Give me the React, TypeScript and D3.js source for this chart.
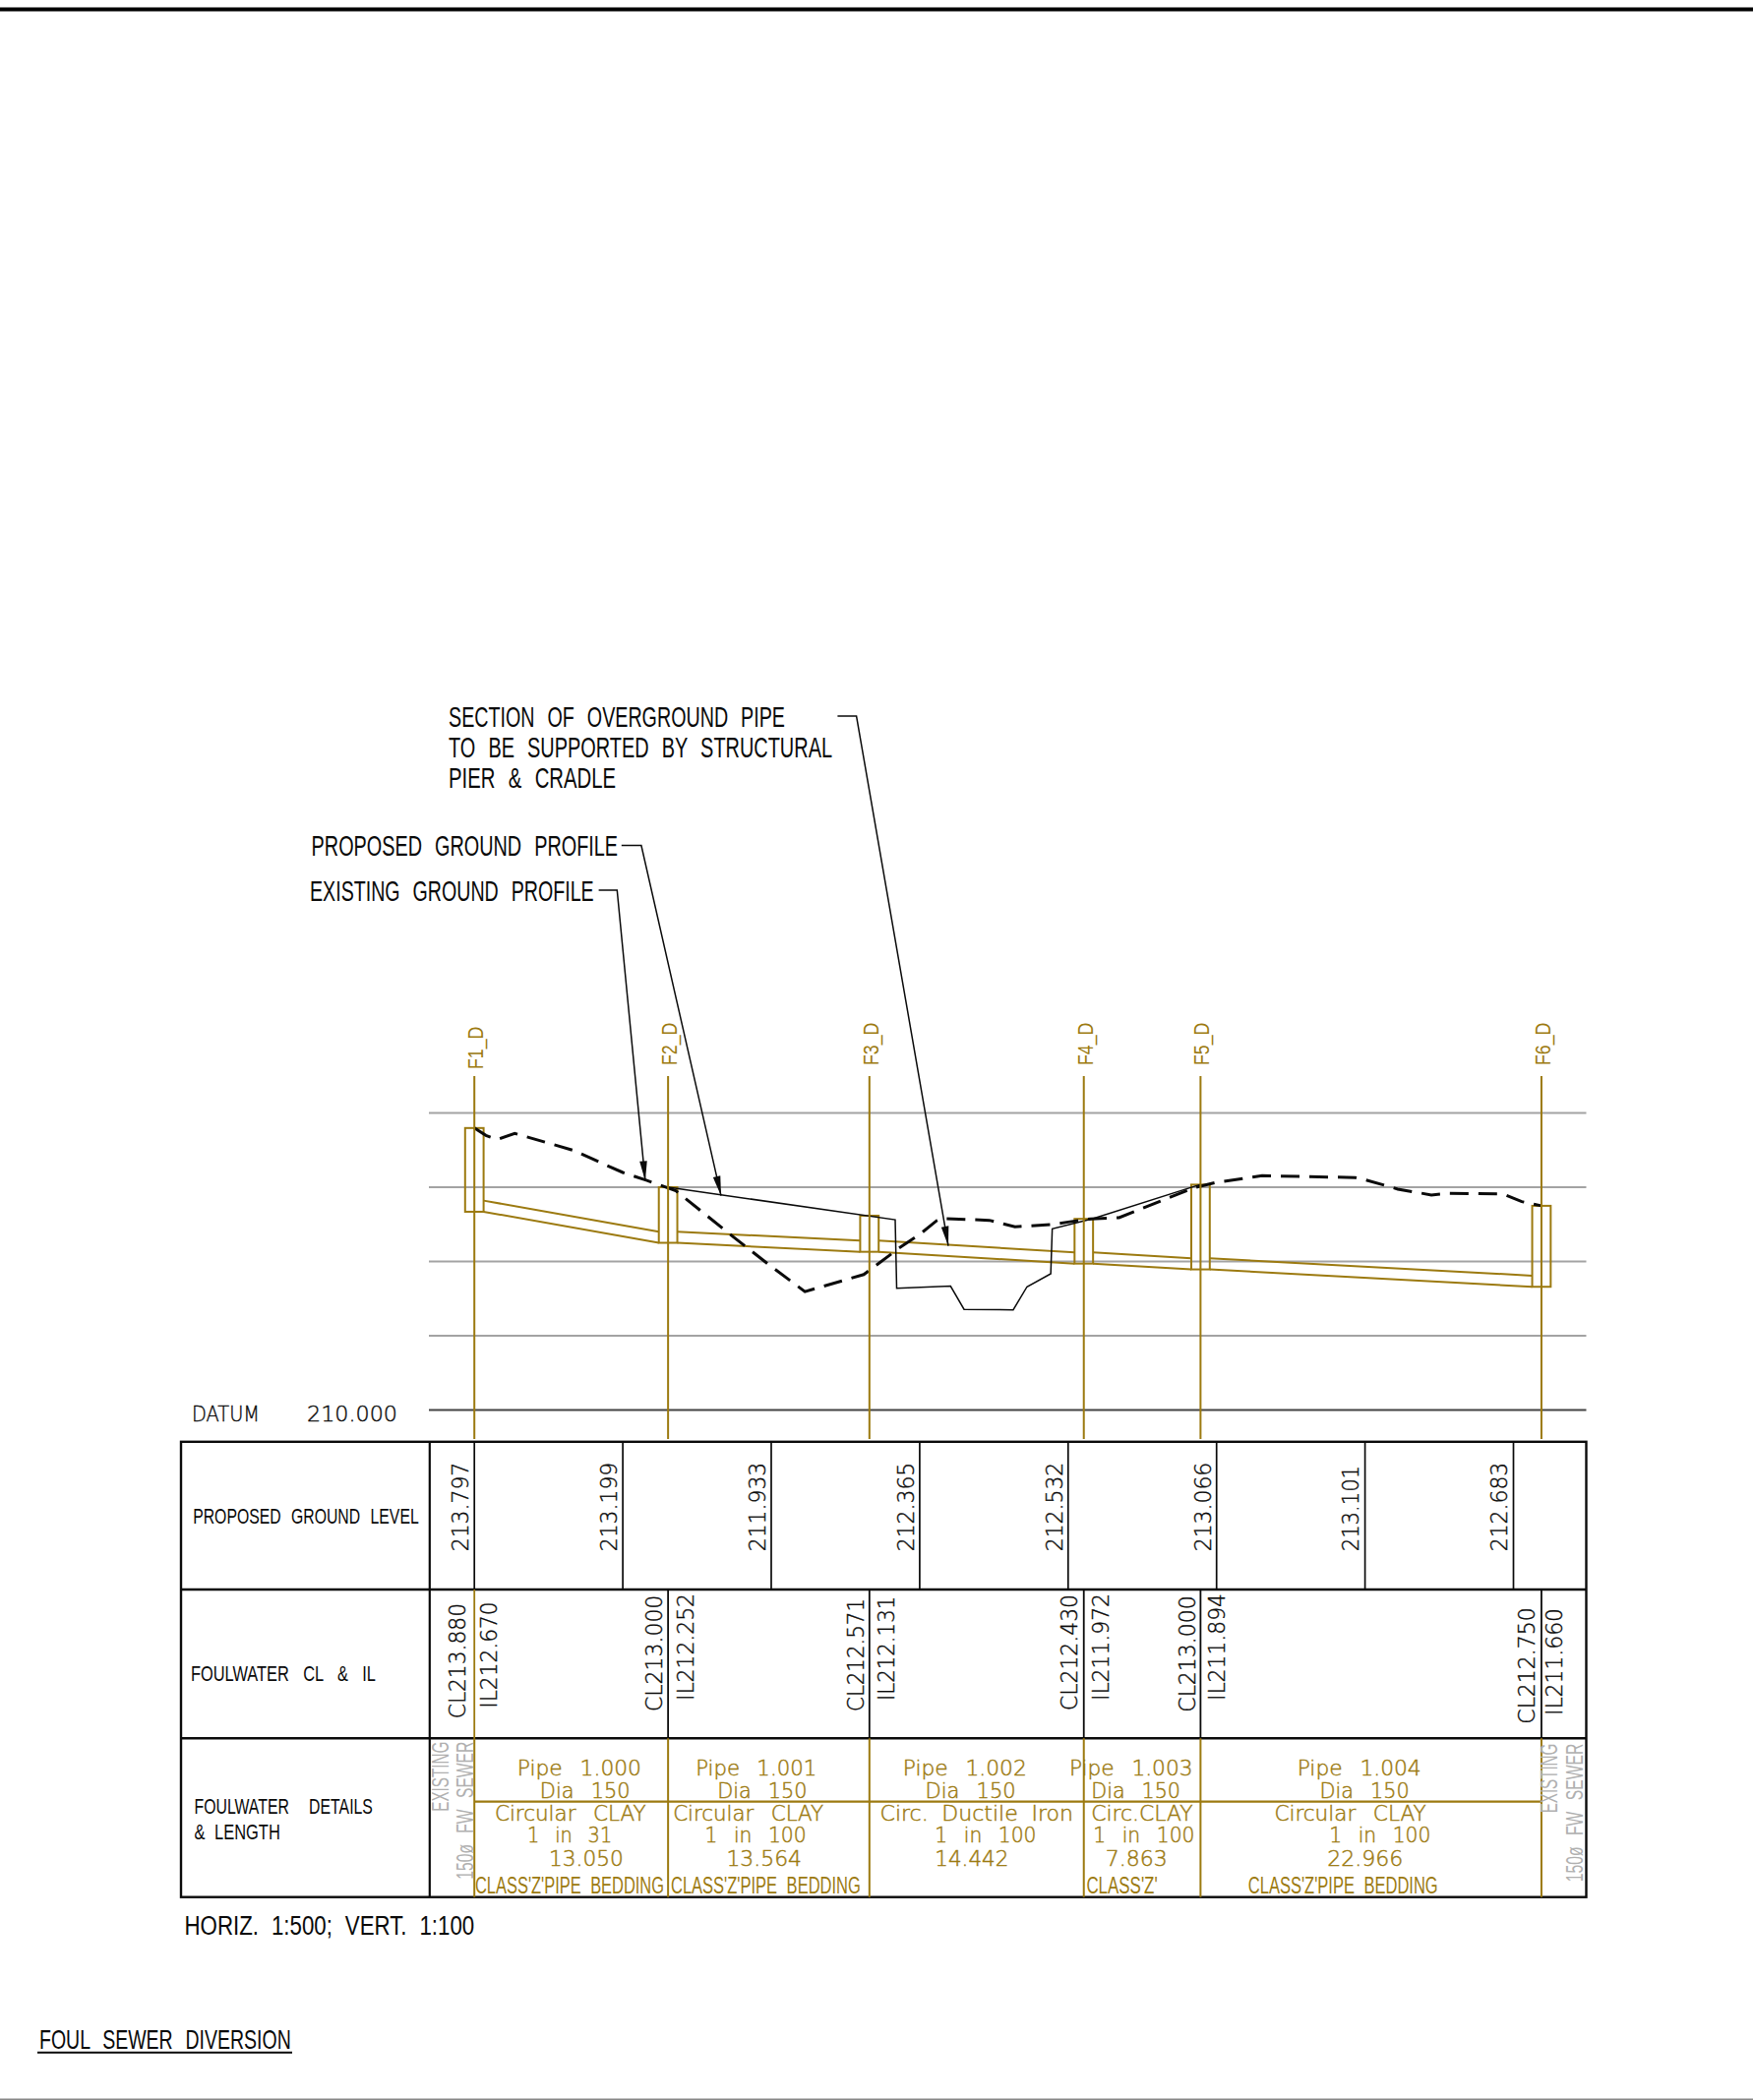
import React from "react";
import * as d3 from "d3";

// ---------- data ----------
const stationNames = ["F1_D", "F2_D", "F3_D", "F4_D", "F5_D", "F6_D"];
const pipeLengths = [13.05, 13.564, 14.442, 7.863, 22.966];
const coverLevels = [213.797, 213.0, 212.617, 212.574, 213.035, 212.75];
const invertLevels = [212.67, 212.252, 212.131, 211.972, 211.894, 211.66];
const clLabels = [213.88, 213.0, 212.571, 212.43, 213.0, 212.75];
const gridLevels = [211, 212, 213, 214];
const datumLevel = 210;
const pipeDiameter = 0.15;
const groundLevelLabels = [213.797, 213.199, 211.933, 212.365, 212.532, 213.066, 213.101, 212.683];
const groundLabelStep = 10;

const existingChainage = [0, 0.78, 1.54, 2.72, 6.72, 8.93, 10, 11.58, 13.57, 17.35, 20, 22.27, 26.23, 28.61, 30, 31.13, 31.46, 34.69, 36.42, 38.93, 40, 41.5, 43.43, 46.96, 48.56, 50, 53.07, 59.33, 60, 62.21, 64.47, 65.59, 69.29, 70.56, 71.88];
const existingLevel = [213.797, 213.697, 213.642, 213.725, 213.494, 213.293, 213.199, 213.094, 212.954, 212.346, 211.933, 211.595, 211.825, 212.18, 212.365, 212.548, 212.581, 212.555, 212.468, 212.498, 212.532, 212.574, 212.591, 212.873, 212.997, 213.066, 213.156, 213.13, 213.101, 212.975, 212.896, 212.918, 212.909, 212.807, 212.75];

const proposedChainage = [13.05, 28.35, 28.45, 32.08, 32.99, 36.3, 37.23, 38.83, 38.93, 41.66, 48.56, 48.89];
const proposedLevel = [213.0, 212.563, 211.641, 211.668, 211.356, 211.35, 211.66, 211.836, 212.441, 212.577, 213.015, 213.035];

const pipeNames = ["Pipe 1.000", "Pipe 1.001", "Pipe 1.002", "Pipe 1.003", "Pipe 1.004"];
const pipeDias = ["Dia 150", "Dia 150", "Dia 150", "Dia 150", "Dia 150"];
const pipeMaterials = ["Circular CLAY", "Circular CLAY", "Circ. Ductile Iron", "Circ.CLAY", "Circular CLAY"];
const pipeGradients = ["1 in 31", "1 in 100", "1 in 100", "1 in 100", "1 in 100"];
const pipeBeddings = ["CLASS'Z'PIPE BEDDING", "CLASS'Z'PIPE BEDDING", "", "CLASS'Z'", "CLASS'Z'PIPE BEDDING"];

// ---------- layout ----------
const GOLD = "#9c7a10";
const INK = "#0a0a0a";
const GREY = "#a3a3a3";
const NARROW = "'Liberation Sans Narrow','Liberation Sans',sans-serif";
const WIDE = "'DejaVu Sans',sans-serif";

const x = d3.scaleLinear().domain([0, 100]).range([482.2, 482.2 + 1509]);
const y = d3.scaleLinear().domain([datumLevel, 214]).range([1433.6, 1131.5]);
const stations = [0, ...d3.cumsum(pipeLengths)];
const sx = stations.map((c) => x(c));
const HW = 9.4;

const T_LEFT = 184, T_COL = 436.8, T_RIGHT = 1612.5;
const R0 = 1465.8, R1 = 1616, R2 = 1767.3, R3 = 1928.7;
const GRID_L = 436;

const path = (cs: number[], ls: number[]) =>
  d3.line<number>().x((d) => x(cs[d])).y((d) => y(ls[d]))(d3.range(cs.length)) as string;

// spans [start, end] of the pipe-table texts
const nameSpans = [[525.8, 652], [707.2, 830.2], [917.8, 1043.8], [1087, 1212.5], [1318.7, 1444.7]];
const diaSpans = [[548.8, 640.6], [729.2, 820.6], [940.6, 1032.7], [1109.3, 1200], [1341.5, 1432.6]];
const matSpans = [[502.9, 656.7], [684.2, 837.1], [894.5, 1090.9], [1109.3, 1212.5], [1295.4, 1449.6]];
const gradSpans = [[536, 622.2], [716.4, 819.7], [950.3, 1053.5], [1111.2, 1214.5], [1351.2, 1454.4]];
const lenSpans = [[558, 633.7], [738.4, 815], [950.3, 1025.4], [1123.8, 1186.8], [1349.2, 1426.3]];
const bedSpans = [[483, 675], [682, 874.8], [0, 0], [1104.4, 1176.7], [1268.8, 1461.7]];

const clOffsets = [-9.2, -6.3, -6.1, -6.4, -5.5, -6.5];
const clStarts = [1747.3, 1740, 1740, 1739, 1740.7, 1752.7];
const clLens = [117.3, 118.3, 115, 118, 118.4, 118.4];
const ilOffsets = [23, 25.9, 25.4, 25.6, 24.5, 20.7];
const ilStarts = [1736.7, 1729, 1729, 1729, 1729, 1744];
const ilLens = [108.4, 109, 106.3, 109, 109, 109];
const glLens = [90.6, 90.6, 90.6, 90.6, 90.6, 90.6, 87.3, 90.6];

type TP = {
  x: number; y: number; len?: number; size: number; fill?: string; font?: string;
  rot?: boolean; weight?: number; ws?: string; sw?: number; children: React.ReactNode;
};
const T = ({ x: tx, y: ty, len, size, fill = INK, font = NARROW, rot, weight = 400, ws = "0.3em", sw = 0, children }: TP) => (
  <text
    transform={rot ? `translate(${tx},${ty}) rotate(-90)` : undefined}
    x={rot ? 0 : tx}
    y={rot ? 0 : ty}
    textLength={len}
    lengthAdjust={len ? "spacingAndGlyphs" : undefined}
    fontFamily={font}
    fontSize={size}
    fontWeight={weight}
    fill={fill}
    stroke={sw ? fill : undefined}
    strokeWidth={sw || undefined}
    style={{ wordSpacing: ws }}
  >
    {children}
  </text>
);

const Leader = ({ pts }: { pts: [number, number][] }) => {
  const [a, b] = pts.slice(-2);
  const ang = Math.atan2(b[1] - a[1], b[0] - a[0]);
  const L = 20, W = 3.8;
  const bx = b[0] - L * Math.cos(ang), by = b[1] - L * Math.sin(ang);
  const nx = -Math.sin(ang) * W, ny = Math.cos(ang) * W;
  return (
    <g>
      <polyline points={pts.map((p) => p.join(",")).join(" ")} fill="none" stroke={INK} strokeWidth={1.5} />
      <polygon points={`${b[0]},${b[1]} ${bx + nx},${by + ny} ${bx - nx},${by - ny}`} fill={INK} />
    </g>
  );
};

const Wide = (p: Omit<TP, "size"> & { size?: number }) => (
  <T font={WIDE} size={23} weight={200} ws="0.15em" sw={0.4} {...p} />
);
const Detail = (p: Omit<TP, "size"> & { size?: number }) => (
  <T font={WIDE} size={21} weight={200} ws="0.5em" sw={0.45} fill={GOLD} {...p} />
);

export default function App() {
  return (
    <svg
      width={1782}
      height={2135}
      viewBox="0 0 1782 2135"
      style={{ position: "absolute", left: 0, top: 0, background: "#fff" }}
    >
      <rect x={0} y={7.5} width={1782} height={4} fill="#000" />
      <rect x={0} y={2133.5} width={1782} height={1.5} fill="#888" />

      {/* annotations */}
      <T x={456} y={738.7} len={342} size={29} ws="0.38em">SECTION OF OVERGROUND PIPE</T>
      <T x={456} y={770.3} len={390} size={29} ws="0.38em">TO BE SUPPORTED BY STRUCTURAL</T>
      <T x={456} y={801.4} len={170} size={29} ws="0.38em">PIER &amp; CRADLE</T>
      <T x={316.6} y={870.3} len={311.4} size={29} ws="0.38em">PROPOSED GROUND PROFILE</T>
      <T x={315} y={915.7} len={288.7} size={29} ws="0.38em">EXISTING GROUND PROFILE</T>

      {/* level grid */}
      {gridLevels.map((l) => (
        <line key={l} x1={GRID_L} x2={T_RIGHT} y1={y(l)} y2={y(l)} stroke={GREY} strokeWidth={2} />
      ))}
      <line x1={GRID_L} x2={T_RIGHT} y1={y(datumLevel)} y2={y(datumLevel)} stroke="#444" strokeWidth={2} />
      <T x={195} y={1445} len={69} size={22} font={WIDE} weight={200} sw={0.4}>DATUM</T>
      <Wide x={312} y={1445} len={92} size={22}>{datumLevel.toFixed(3)}</Wide>

      {/* pipes and chambers */}
      {pipeLengths.map((_, i) => (
        <g key={i} fill="none" stroke={GOLD} strokeWidth={2}>
          <line x1={sx[i] + HW} x2={sx[i + 1] - HW} y1={y(invertLevels[i])} y2={y(invertLevels[i + 1])} />
          <line x1={sx[i] + HW} x2={sx[i + 1] - HW} y1={y(invertLevels[i] + pipeDiameter)} y2={y(invertLevels[i + 1] + pipeDiameter)} />
        </g>
      ))}
      {stations.map((_, i) => (
        <rect
          key={i}
          x={sx[i] - HW}
          width={HW * 2}
          y={y(coverLevels[i])}
          height={y(invertLevels[i]) - y(coverLevels[i])}
          fill="none"
          stroke={GOLD}
          strokeWidth={2}
        />
      ))}

      {/* ground profiles */}
      <path d={path(proposedChainage, proposedLevel)} fill="none" stroke={INK} strokeWidth={1.5} />
      <path d={path(existingChainage, existingLevel)} fill="none" stroke={INK} strokeWidth={3} strokeDasharray="19 10" />

      {/* station lines */}
      {stationNames.map((n, i) => (
        <g key={n}>
          <line x1={sx[i]} x2={sx[i]} y1={1094} y2={1463} stroke={GOLD} strokeWidth={2} />
          <T rot x={sx[i] + 9} y={i === 0 ? 1087 : 1083} len={43.3} size={22} fill={GOLD}>{n}</T>
        </g>
      ))}

      <Leader pts={[[851.4, 728], [870.6, 728], [964, 1266.7]]} />
      <Leader pts={[[631.8, 859.6], [651.9, 859.6], [733, 1215.7]]} />
      <Leader pts={[[608.6, 905], [627.3, 905], [655.9, 1200.4]]} />

      {/* table frame */}
      <rect x={T_LEFT} y={R0} width={T_RIGHT - T_LEFT} height={R3 - R0} fill="none" stroke={INK} strokeWidth={2.4} />
      <line x1={T_LEFT} x2={T_RIGHT} y1={R1} y2={R1} stroke={INK} strokeWidth={2.4} />
      <line x1={T_LEFT} x2={T_RIGHT} y1={R2} y2={R2} stroke={INK} strokeWidth={2.4} />
      <line x1={T_COL} x2={T_COL} y1={R0} y2={R3} stroke={INK} strokeWidth={2.2} />

      {/* row 1: ground levels */}
      {groundLevelLabels.map((v, i) => {
        const px = x(i * groundLabelStep);
        return (
          <g key={i}>
            <line x1={px} x2={px} y1={R0} y2={R1} stroke={INK} strokeWidth={1.7} />
            <Wide rot x={px - 6.2} y={1577.3} len={glLens[i]}>{v.toFixed(3)}</Wide>
          </g>
        );
      })}

      {/* row 2: CL & IL */}
      {stations.map((_, i) => (
        <g key={i}>
          <line x1={sx[i]} x2={sx[i]} y1={R1} y2={R2} stroke={i === 0 ? GOLD : INK} strokeWidth={1.8} />
          <Wide rot x={sx[i] + clOffsets[i]} y={clStarts[i]} len={clLens[i]}>{`CL${clLabels[i].toFixed(3)}`}</Wide>
          <Wide rot x={sx[i] + ilOffsets[i]} y={ilStarts[i]} len={ilLens[i]}>{`IL${invertLevels[i].toFixed(3)}`}</Wide>
        </g>
      ))}

      {/* row 3: pipe details */}
      <line x1={sx[0]} x2={sx[5]} y1={1831.7} y2={1831.7} stroke={GOLD} strokeWidth={2.2} />
      {stations.map((_, i) => (
        <line key={i} x1={sx[i]} x2={sx[i]} y1={R2} y2={R3} stroke={GOLD} strokeWidth={2} />
      ))}
      {pipeLengths.map((len, i) => (
        <g key={i}>
          <Detail x={nameSpans[i][0]} y={1805} len={nameSpans[i][1] - nameSpans[i][0]}>{pipeNames[i]}</Detail>
          <Detail x={diaSpans[i][0]} y={1828.3} len={diaSpans[i][1] - diaSpans[i][0]}>{pipeDias[i]}</Detail>
          <Detail x={matSpans[i][0]} y={1851} len={matSpans[i][1] - matSpans[i][0]} ws={i === 2 ? "0.3em" : "0.5em"}>{pipeMaterials[i]}</Detail>
          <Detail x={gradSpans[i][0]} y={1873.3} len={gradSpans[i][1] - gradSpans[i][0]}>{pipeGradients[i]}</Detail>
          <Detail x={lenSpans[i][0]} y={1897.3} len={lenSpans[i][1] - lenSpans[i][0]}>{len.toFixed(3)}</Detail>
          {pipeBeddings[i] && (
            <T x={bedSpans[i][0]} y={1925.3} len={bedSpans[i][1] - bedSpans[i][0]} size={23} fill={GOLD} ws="0.3em">{pipeBeddings[i]}</T>
          )}
        </g>
      ))}

      {/* existing sewer notes */}
      <T rot x={455.6} y={1841.7} len={71} size={23} fill="#b0b0b0">EXISTING</T>
      <T rot x={481.3} y={1910.7} len={140} size={23} fill="#b0b0b0" ws="0.45em">150ø FW SEWER</T>
      <T rot x={1582.9} y={1843.3} len={70.6} size={23} fill="#b0b0b0">EXISTING</T>
      <T rot x={1608.6} y={1913.3} len={140.6} size={23} fill="#b0b0b0" ws="0.45em">150ø FW SEWER</T>

      {/* row titles */}
      <T x={196.2} y={1549.3} len={229.5} size={22} ws="0.38em">PROPOSED GROUND LEVEL</T>
      <T x={193.9} y={1709.3} len={188} size={22} ws="0.6em">FOULWATER CL &amp; IL</T>
      <T x={197.5} y={1844.3} len={181.4} size={22} ws="1em">FOULWATER DETAILS</T>
      <T x={197.5} y={1870} len={87.3} size={22}>&amp; LENGTH</T>

      <T x={187.5} y={1966.7} len={294.7} size={27}>HORIZ. 1:500; VERT. 1:100</T>
      <T x={40} y={2083.3} len={255.8} size={28} ws="0.38em">FOUL SEWER DIVERSION</T>
      <line x1={38} x2={297} y1={2086.8} y2={2086.8} stroke={INK} strokeWidth={2} />
    </svg>
  );
}
